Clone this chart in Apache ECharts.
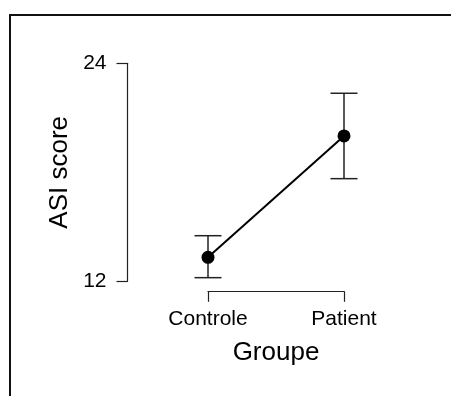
<!DOCTYPE html>
<html>
<head>
<meta charset="utf-8">
<script src="https://cdn.jsdelivr.net/npm/echarts@6/dist/echarts.min.js"></script>
<style>
html,body{margin:0;padding:0;background:#fff;}
#chart{width:451px;height:396px;}
</style>
</head>
<body>
<div id="chart"></div>
<script>
// ---- data ----
var categories = ['Controle', 'Patient'];
var means = [13.32, 20.0];
var lowerCI = [12.2, 17.65];
var upperCI = [14.51, 22.35];
var yTicks = [12, 24];
var xTitle = 'Groupe';
var yTitle = 'ASI score';

var FONT = 'Liberation Sans, Arial, Helvetica, sans-serif';
var chart = echarts.init(document.getElementById('chart'), null, {renderer: 'canvas'});

var errData = categories.map(function (c, i) { return [i, lowerCI[i], upperCI[i]]; });

var option = {
  backgroundColor: '#fff',
  animation: false,
  graphic: [{
    type: 'rect',
    shape: {x: 10, y: 15, width: 600, height: 600},
    style: {fill: 'none', stroke: '#111', lineWidth: 2},
    silent: true
  }],
  grid: {left: 208, width: 136, top: 63.3, height: 218, containLabel: false},
  xAxis: {
    type: 'category',
    data: categories,
    boundaryGap: false,
    offset: 10,
    name: xTitle,
    nameLocation: 'middle',
    nameGap: 49,
    nameTextStyle: {fontFamily: FONT, fontSize: 26, color: '#000'},
    axisLine: {show: true, lineStyle: {color: '#222', width: 1.2}},
    axisTick: {show: true, length: 10.5, lineStyle: {color: '#222', width: 1.2}},
    axisLabel: {fontFamily: FONT, fontSize: 21, color: '#000', margin: 17.5},
    splitLine: {show: false}
  },
  yAxis: {
    type: 'value',
    min: yTicks[0],
    max: yTicks[1],
    interval: yTicks[1] - yTicks[0],
    offset: 80.5,
    name: yTitle,
    nameLocation: 'middle',
    nameGap: 55,
    nameTextStyle: {fontFamily: FONT, fontSize: 26, color: '#000'},
    axisLine: {show: true, lineStyle: {color: '#222', width: 1.2}},
    axisTick: {show: true, length: 11, lineStyle: {color: '#222', width: 1.2}},
    axisLabel: {fontFamily: FONT, fontSize: 21, color: '#000', margin: 21},
    splitLine: {show: false}
  },
  series: [
    {
      type: 'custom',
      clip: false,
      z: 2,
      data: errData,
      renderItem: function (params, api) {
        var x = api.value(0);
        var lo = api.coord([x, api.value(1)]);
        var hi = api.coord([x, api.value(2)]);
        var hw = 13.5;
        var st = {stroke: '#222', lineWidth: 1.5};
        return {
          type: 'group',
          children: [
            {type: 'line', shape: {x1: lo[0], y1: lo[1], x2: hi[0], y2: hi[1]}, style: st},
            {type: 'line', shape: {x1: lo[0] - hw, y1: lo[1], x2: lo[0] + hw, y2: lo[1]}, style: st},
            {type: 'line', shape: {x1: hi[0] - hw, y1: hi[1], x2: hi[0] + hw, y2: hi[1]}, style: st}
          ]
        };
      }
    },
    {
      type: 'line',
      clip: false,
      z: 3,
      data: means,
      symbol: 'circle',
      symbolSize: 13,
      showAllSymbol: true,
      itemStyle: {color: '#000'},
      lineStyle: {color: '#000', width: 2}
    }
  ]
};
chart.setOption(option);
</script>
</body>
</html>
